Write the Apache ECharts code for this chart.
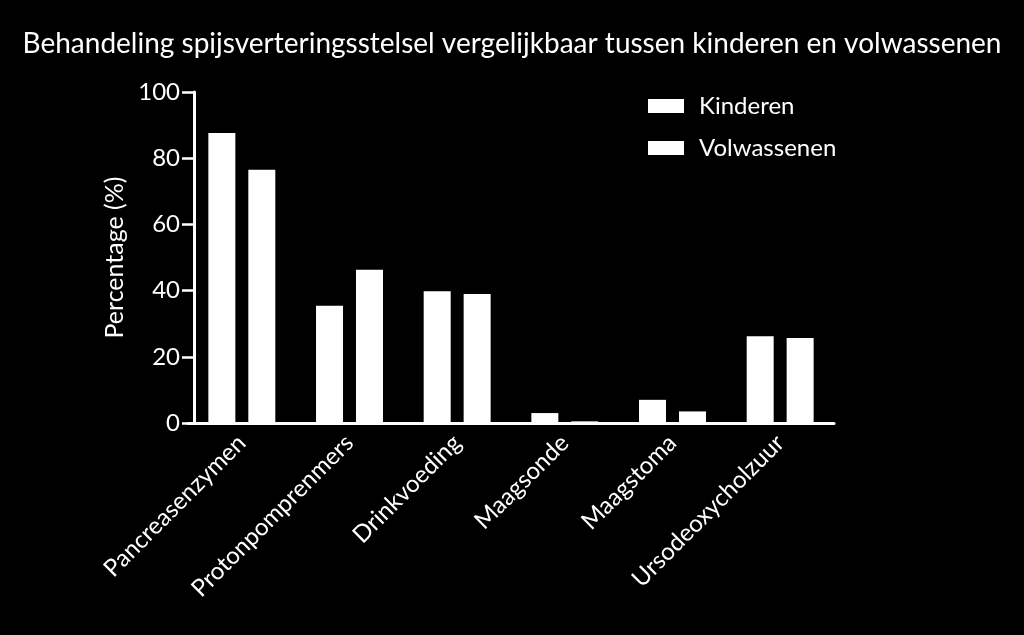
<!DOCTYPE html>
<html>
<head>
<meta charset="utf-8">
<script src="https://cdn.jsdelivr.net/npm/echarts@6/dist/echarts.min.js"></script>
<style>html,body{margin:0;padding:0;background:#000;}#c{width:1024px;height:635px;}</style>
</head>
<body>
<div id="c"></div>
<script>
var categories = ['Pancreasenzymen', 'Protonpomprenmers', 'Drinkvoeding', 'Maagsonde', 'Maagstoma', 'Ursodeoxycholzuur'];
var kinderen = [87.6, 35.4, 39.8, 3.0, 7.0, 26.2];
var volwassenen = [76.5, 46.3, 39.0, 0.5, 3.5, 25.7];
var yTicks = [0, 20, 40, 60, 80, 100];

var chart = echarts.init(document.getElementById('c'));
var font = 'Lato';
chart.setOption({
  backgroundColor: '#000',
  animation: false,
  textStyle: { fontFamily: font, color: '#fff' },
  title: {
    text: 'Behandeling spijsverteringsstelsel vergelijkbaar tussen kinderen en volwassenen',
    left: 'center', top: 25,
    textStyle: { color: '#fff', fontFamily: font, fontSize: 28, fontWeight: 'normal' }
  },
  legend: {
    orient: 'vertical', left: 643, top: 89,
    itemWidth: 36, itemHeight: 14, itemGap: 18,
    icon: 'rect',
    textStyle: { color: '#fff', fontFamily: font, fontSize: 24, lineHeight: 24, padding: [0, 0, 0, 10] },
    data: ['Kinderen', 'Volwassenen']
  },
  grid: { left: 188, right: 190, top: 92, bottom: 212, containLabel: false },
  xAxis: {
    type: 'category',
    data: categories,
    axisLine: { lineStyle: { color: '#fff', width: 3 } },
    axisTick: { alignWithLabel: true, length: 14, lineStyle: { color: '#fff', width: 2.5 } },
    axisLabel: { rotate: 45, color: '#fff', fontFamily: font, fontSize: 24, margin: 16, interval: 0 }
  },
  yAxis: {
    type: 'value', min: 0, max: 100, interval: 20,
    offset: -6,
    name: 'Percentage (%)', nameLocation: 'middle', nameGap: 66,
    nameTextStyle: { color: '#fff', fontFamily: font, fontSize: 25 },
    splitLine: { show: false },
    axisLine: { show: true, lineStyle: { color: '#fff', width: 3 } },
    axisTick: { show: true, length: 12, lineStyle: { color: '#fff', width: 2.5 } },
    axisLabel: { color: '#fff', fontFamily: font, fontSize: 24, margin: 14,
      formatter: function (v) { return yTicks.indexOf(v) >= 0 ? String(v) : ''; } }
  },
  series: [
    { name: 'Kinderen', type: 'bar', data: kinderen, barWidth: 27, barGap: '48%', itemStyle: { color: '#fff' } },
    { name: 'Volwassenen', type: 'bar', data: volwassenen, barWidth: 27, barGap: '48%', itemStyle: { color: '#fff' } }
  ]
});
</script>
</body>
</html>
